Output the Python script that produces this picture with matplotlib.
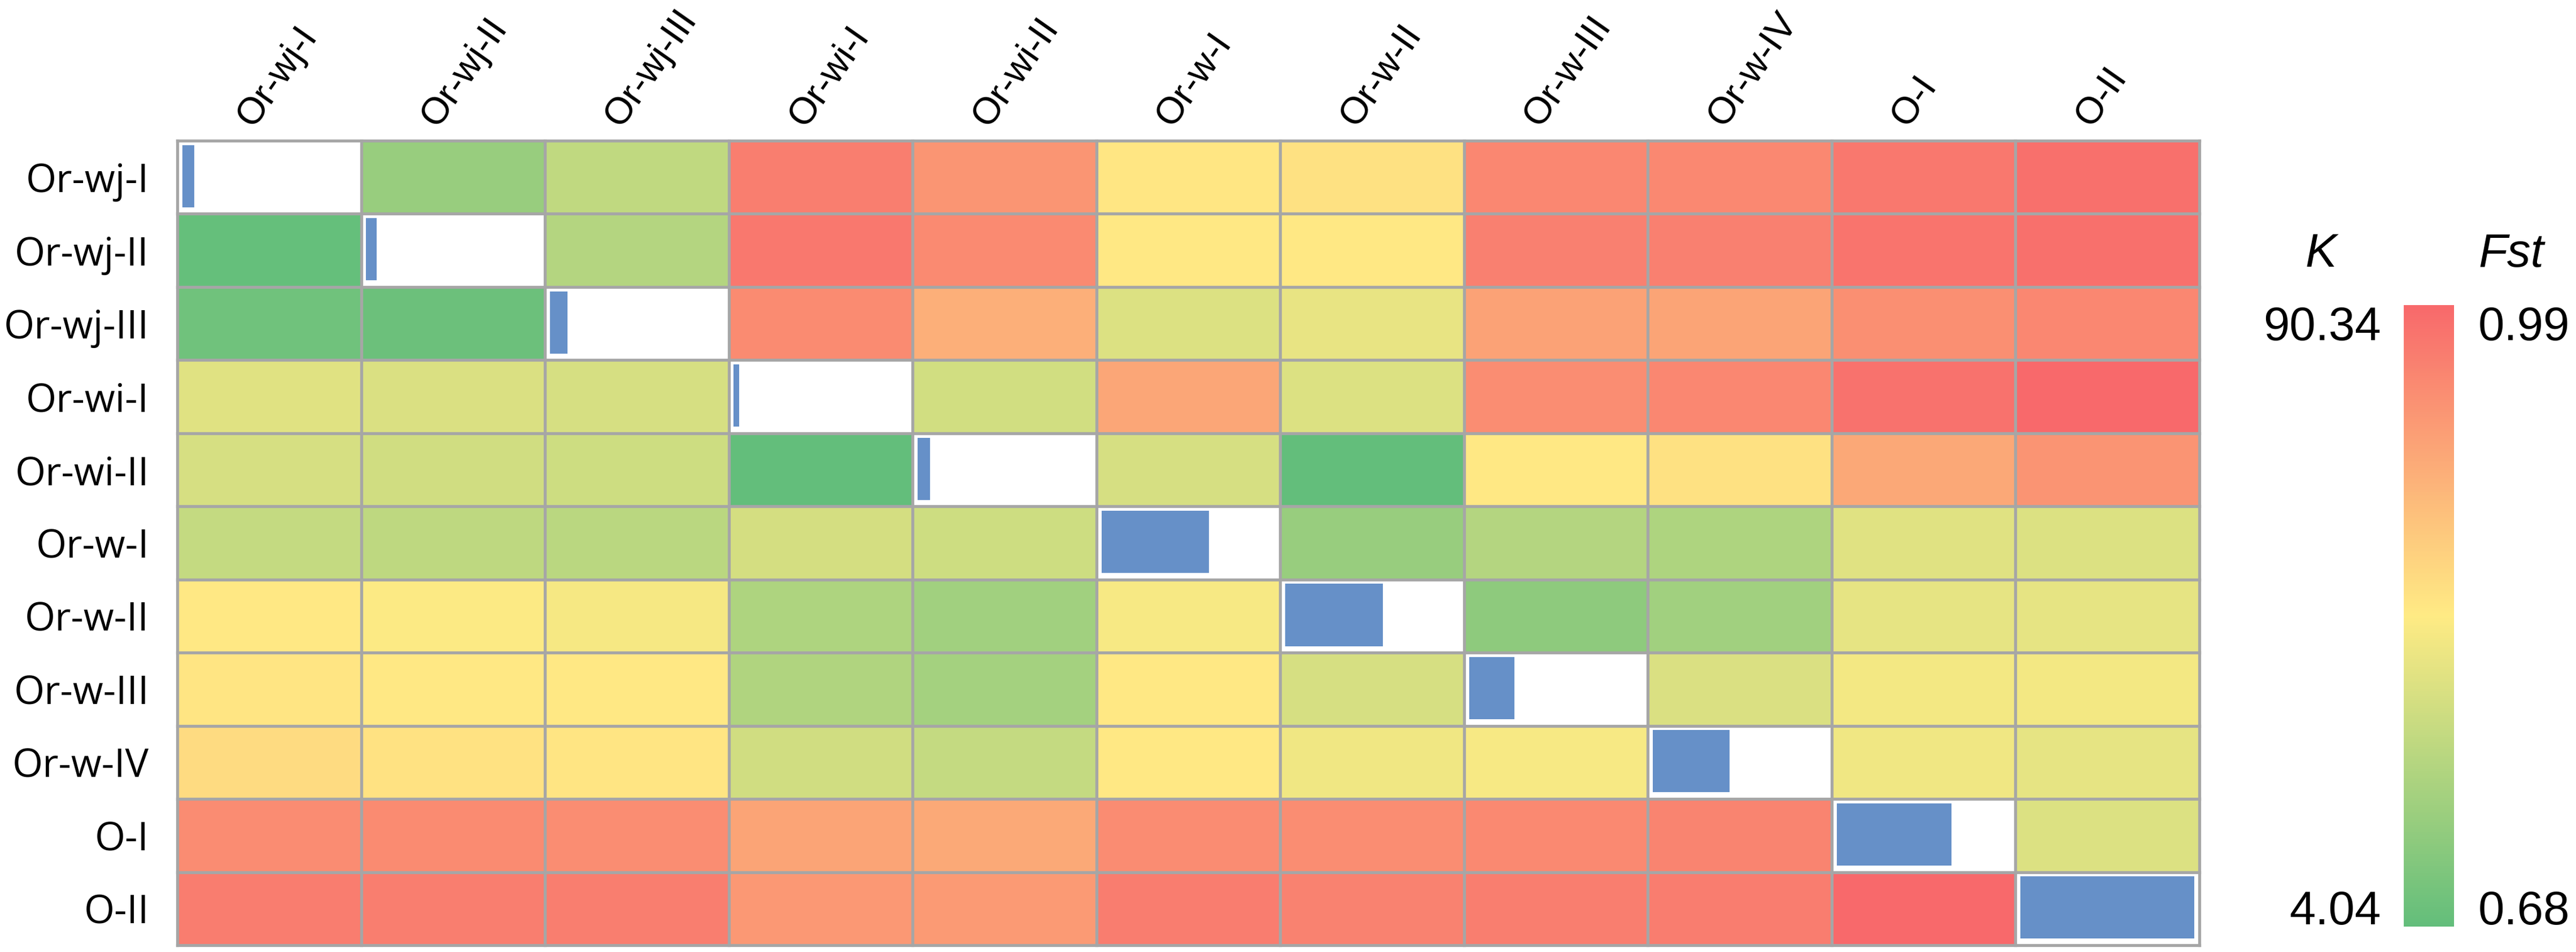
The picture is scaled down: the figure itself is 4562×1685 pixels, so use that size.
import numpy as np
import matplotlib.pyplot as plt
import matplotlib.transforms as mtransforms
from matplotlib.colors import LinearSegmentedColormap, Normalize
from matplotlib.colorbar import ColorbarBase

groups = ['Or-wj-I', 'Or-wj-II', 'Or-wj-III', 'Or-wi-I', 'Or-wi-II', 'Or-w-I',
          'Or-w-II', 'Or-w-III', 'Or-w-IV', 'O-I', 'O-II']

# upper triangle: Fst, row i -> columns i+1 .. 10
fst_upper = [
    [0.733, 0.773, 0.964, 0.937, 0.841, 0.846, 0.954, 0.953, 0.971, 0.981],
    [0.761, 0.971, 0.951, 0.838, 0.838, 0.962, 0.962, 0.976, 0.981],
    [0.950, 0.906, 0.801, 0.813, 0.922, 0.919, 0.944, 0.954],
    [0.789, 0.917, 0.801, 0.947, 0.954, 0.979, 0.990],
    [0.795, 0.680, 0.838, 0.846, 0.914, 0.939],
    [0.733, 0.761, 0.754, 0.804, 0.801],
    [0.723, 0.742, 0.810, 0.810],
    [0.798, 0.823, 0.823],
    [0.820, 0.810],
    [0.801],
    [],
]

# lower triangle: K, row i -> columns 0 .. i-1
k_lower = [
    [],
    [4.9],
    [7.9, 6.6],
    [38.6, 36.8, 36.0],
    [36.0, 34.2, 33.4, 4.04],
    [30.8, 29.1, 28.2, 35.1, 33.4],
    [48.1, 46.3, 44.6, 24.8, 21.3, 45.0],
    [48.9, 48.1, 48.1, 25.6, 22.2, 48.1, 36.0],
    [52.4, 50.2, 48.9, 34.2, 30.8, 48.1, 42.9, 45.0],
    [78.7, 79.1, 78.3, 70.5, 68.8, 78.7, 78.3, 79.6, 81.3],
    [83.4, 83.0, 83.0, 74.8, 73.9, 83.4, 81.7, 83.0, 83.4, 90.34],
]

# relative bar length in the diagonal cells
diag_bar = [0.068, 0.06, 0.10, 0.03, 0.07, 0.62, 0.56, 0.26, 0.44, 0.66, 1.0]

fst_min, fst_max = 0.68, 0.99
k_min, k_max = 4.04, 90.34

n = len(groups)
fst = np.full((n, n), np.nan)
k = np.full((n, n), np.nan)
for i in range(n):
    for j, v in enumerate(fst_upper[i]):
        fst[i, i + 1 + j] = v
    for j, v in enumerate(k_lower[i]):
        k[i, j] = v

cmap = LinearSegmentedColormap.from_list('gyr', ['#63BE7B', '#FFEB84', '#F8696B'])
grid_c = '#A6A6A6'
W, H = 4562, 1685

fig = plt.figure(figsize=(W / 100, H / 100), dpi=100)
ax = fig.add_axes([314 / W, 1 - 1673 / H, (3895 - 314) / W, (1673 - 249) / H])

edges = np.arange(n + 1) - 0.5
ax.pcolormesh(edges, edges, np.ma.masked_invalid(fst), cmap=cmap,
              norm=Normalize(fst_min, fst_max))
ax.pcolormesh(edges, edges, np.ma.masked_invalid(k), cmap=cmap,
              norm=Normalize(k_min, k_max))

idx = np.arange(n)
inset = 0.027
ax.barh(idx - 0.015, np.array(diag_bar) * (1 - 2 * inset), left=idx - 0.5 + inset,
        height=0.85, color='#6690C8', zorder=3)

for b in edges:
    ax.axhline(b, color=grid_c, lw=3.8, zorder=4, clip_on=False)
    ax.axvline(b, color=grid_c, lw=3.8, zorder=4, clip_on=False)

ax.set_xlim(-0.5, n - 0.5)
ax.set_ylim(n - 0.5, -0.5)
for s in ax.spines.values():
    s.set_visible(False)

ax.set_xticks([])
ax.set_yticks(idx)
ax.set_yticklabels(groups, fontsize=50, family='Open Sans')
ax.tick_params(axis='y', length=0, pad=36)

trans = mtransforms.blended_transform_factory(ax.transData, ax.transAxes)
off = mtransforms.ScaledTranslation(-0.28, 0.22, fig.dpi_scale_trans)
for i, g in enumerate(groups):
    ax.text(i, 1, g, transform=trans + off, rotation=55, rotation_mode='anchor',
            ha='left', va='baseline', fontsize=48, family='Liberation Sans')

# colour scale
cax = fig.add_axes([4257 / W, 1 - 1640 / H, 89 / W, (1640 - 540) / H])
cb = ColorbarBase(cax, cmap=cmap, norm=Normalize(0, 1), orientation='vertical')
cb.set_ticks([])
cb.outline.set_visible(False)

num_kw = dict(fontsize=60, family='Liberation Sans', va='center')
fig.text(4217 / W, 1 - 580 / H, f'{k_max:.2f}', ha='right', **num_kw)
fig.text(4217 / W, 1 - 1614 / H, f'{k_min:.2f}', ha='right', **num_kw)
fig.text(4389 / W, 1 - 580 / H, f'{fst_max:.2f}', ha='left', **num_kw)
fig.text(4389 / W, 1 - 1614 / H, f'{fst_min:.2f}', ha='left', **num_kw)
fig.text(4110 / W, 1 - 450 / H, 'K', ha='center', style='italic', **num_kw)
fig.text(4389 / W, 1 - 450 / H, 'Fst', ha='left', style='italic', **num_kw)

fig.savefig('out.png', dpi=100)
